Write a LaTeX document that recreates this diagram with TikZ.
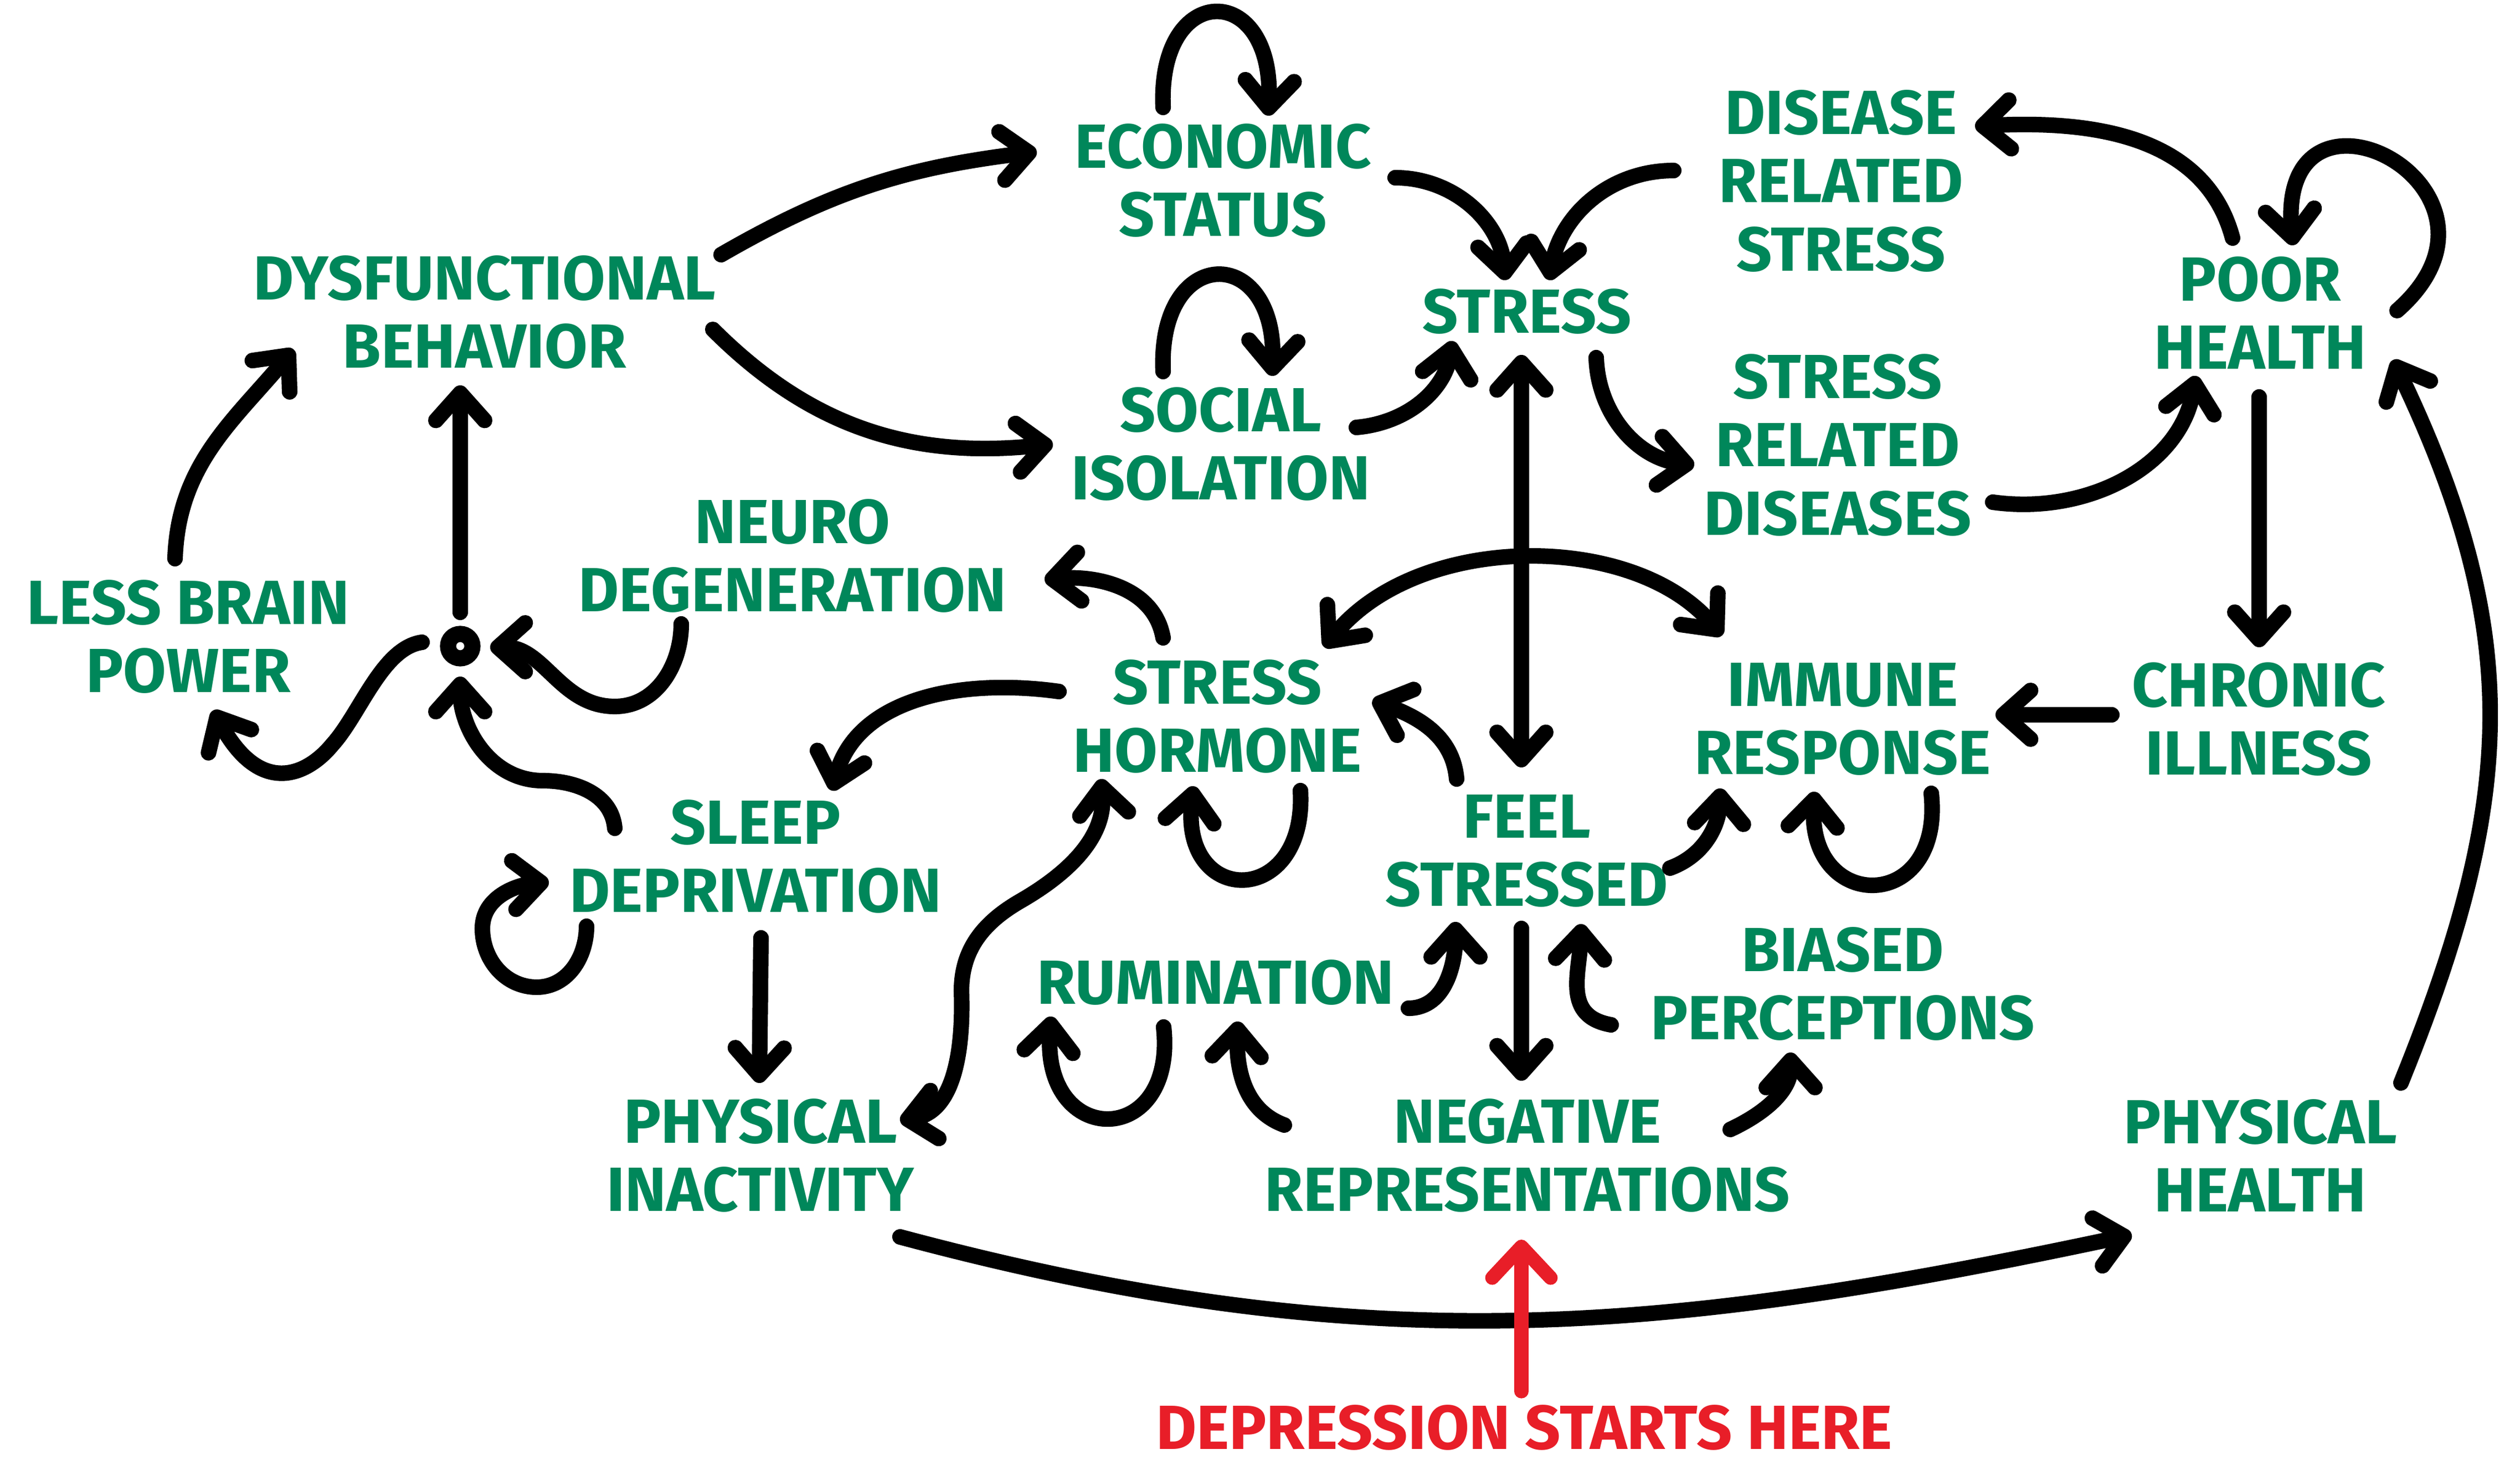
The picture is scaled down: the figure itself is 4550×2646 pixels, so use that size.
\documentclass[tikz,border=0pt]{standalone}
\usepackage{fontspec}
\newfontfamily\handfont{Fira Sans}
\usetikzlibrary{arrows.meta}
\definecolor{tgreen}{RGB}{0,135,90}
\definecolor{tred}{RGB}{232,30,40}
\begin{document}
\begin{tikzpicture}[x=0.01cm,y=-0.01cm,
  lbl/.style={text=tgreen, font=\handfont\bfseries\fontsize{32}{35}\selectfont, align=center, inner sep=0pt},
  conn/.style={line width=8pt, line cap=round, line join=round, draw=black},
  arr/.style={conn, -{Straight Barb[round,length=14pt,width=25pt]}},
  darr/.style={conn, {Straight Barb[round,length=14pt,width=25pt]}-{Straight Barb[round,length=14pt,width=25pt]}},
  redarr/.style={line width=7.2pt, draw=tred, line cap=round, -{Straight Barb[round,length=16pt,width=30pt]}},
  ring/.style={circle, draw=black, fill=white, line width=8.3pt, minimum size=0.44cm, inner sep=0pt}
]
\fill[white] (0,0) rectangle (4550,2646);
\useasboundingbox (0,0) rectangle (4550,2646);

% nodes
\node[lbl] (econ) at (2208,326) {ECONOMIC\\STATUS};
\node[lbl] (dysf) at (875,564) {DYSFUNCTIONAL\\BEHAVIOR};
\node[lbl] (social) at (2204,802) {SOCIAL\\ISOLATION};
\node[lbl] (stress) at (2757,563) {STRESS};
\node[lbl] (drs) at (3324,327) {DISEASE\\RELATED\\STRESS};
\node[lbl] (srd) at (3318,804) {STRESS\\RELATED\\DISEASES};
\node[lbl] (poor) at (4081,565) {POOR\\HEALTH};
\node[lbl] (neuro) at (1431,1004) {NEURO\\DEGENERATION};
\node[lbl] (lbp) at (340,1150) {LESS BRAIN\\POWER};
\node[lbl] (hormone) at (2198,1294) {STRESS\\HORMONE};
\node[lbl] (immune) at (3327,1299) {IMMUNE\\RESPONSE};
\node[lbl] (chronic) at (4078,1299) {CHRONIC\\ILLNESS};
\node[lbl] (sleep) at (1364,1547) {SLEEP\\DEPRIVATION};
\node[lbl] (feel) at (2757,1537) {FEEL\\STRESSED};
\node[lbl] (rumin) at (2195,1775) {RUMINATION};
\node[lbl] (biased) at (3327,1777) {BIASED\\PERCEPTIONS};
\node[lbl] (inact) at (1373,2087) {PHYSICAL\\INACTIVITY};
\node[lbl] (negrep) at (2758,2087) {NEGATIVE\\REPRESENTATIONS};
\node[lbl] (phealth) at (4081,2087) {PHYSICAL\\HEALTH};
\node[lbl, text=tred] (depr) at (2752,2578) {DEPRESSION STARTS HERE};
\node[ring] (dot) at (831,1167) {};

% upper part
\draw[arr] ([shift={(427,-104)}]dysf.center) to[out=30,in=187] ([shift={(-336,-52)}]econ.center);
\draw[arr] ([shift={(412,31)}]dysf.center) to[out=-45,in=186] ([shift={(-303,0)}]social.center);
\draw[arr] ([shift={(-108,-132)}]econ.center) .. controls +(-10,-229) and +(10,-244) .. ([shift={(82,-117)}]econ.center);
\draw[arr] ([shift={(-104,-131)}]social.center) .. controls +(-10,-231) and +(8,-239) .. ([shift={(93,-123)}]social.center);
\draw[arr] ([shift={(311,-5)}]econ.center) to[out=0,in=95] ([shift={(-39,-57)}]stress.center);
\draw[arr] ([shift={(-302,-19)}]drs.center) to[out=180,in=80] ([shift={(40,-57)}]stress.center);
\draw[arr] ([shift={(245,-30)}]social.center) to[out=5,in=-100] ([shift={(-134,53)}]stress.center);
\draw[darr] ([shift={(-10,78)}]stress.center) -- ([shift={(-10,-151)}]feel.center);
\draw[arr] ([shift={(125,83)}]stress.center) to[out=-88,in=173] ([shift={(-259,36)}]srd.center);
\draw[arr] ([shift={(280,103)}]srd.center) to[out=-8,in=-100] ([shift={(-116,114)}]poor.center);
\draw[arr] ([shift={(-50,-135)}]poor.center) to[out=105,in=3] ([shift={(242,-99)}]drs.center);
\draw[arr] ([shift={(247,-4)}]poor.center) .. controls +(252,-221) and +(-30,-343) .. ([shift={(59,-122)}]poor.center);
\draw[arr] ([shift={(-2,152)}]poor.center) -- ([shift={(1,-130)}]chronic.center);
\draw[arr] ([shift={(-265,-8)}]chronic.center) -- ([shift={(276,-8)}]immune.center);
\draw[arr] ([shift={(254,-131)}]phealth.center) .. controls +(205,-506) and +(239,500) .. ([shift={(240,85)}]poor.center);
\draw[arr] ([shift={(252,147)}]inact.center) to[out=-15,in=192] ([shift={(-232,143)}]phealth.center);

% left
\draw[arr] ([shift={(-24,-141)}]lbp.center) to[out=88,in=-130] ([shift={(-345,67)}]dysf.center);
\draw[arr] ([shift={(0,-61)}]dot.center) -- ([shift={(-44,132)}]dysf.center);
\draw[arr] ([shift={(-69,-7)}]dot.center) .. controls (690,1170) and (650,1290) .. (600,1345) .. controls (555,1400) and (470,1440) .. ([shift={(45,133)}]lbp.center);
\draw[arr] ([shift={(-201,123)}]neuro.center) to[out=-90,in=0] (1110,1276) to[out=180,in=0] ([shift={(54,2)}]dot.center);
\draw[arr] ([shift={(-98,-142)}]hormone.center) to[out=100,in=5] ([shift={(455,43)}]neuro.center);
\draw[arr] ([shift={(-286,-45)}]hormone.center) to[out=172,in=75] ([shift={(138,-119)}]sleep.center);
\draw[arr] ([shift={(-254,-51)}]sleep.center) to[out=95,in=0] (980,1410) to[out=180,in=-90] ([shift={(0,55)}]dot.center);
\draw[arr] ([shift={(-305,126)}]sleep.center) to[out=-90,in=0] (969,1783) to[out=180,in=-90] (871,1677) to[out=90,in=185] ([shift={(-373,46)}]sleep.center);
\draw[arr] ([shift={(10,147)}]sleep.center) -- ([shift={(-2,-131)}]inact.center);

% middle
\draw[arr] ([shift={(150,134)}]hormone.center) .. controls +(12,212) and +(-25,220) .. ([shift={(-43,126)}]hormone.center);
\draw[darr] ([shift={(-210,113)}]hormone.center) to[out=-85,in=30] (1843,1627) to[out=210,in=90] (1736,1790) to[out=-88,in=10] ([shift={(252,-63)}]inact.center);
\draw[arr] ([shift={(-127,-130)}]feel.center) to[out=95,in=-20] ([shift={(280,-29)}]hormone.center);
\draw[darr] ([shift={(193,-125)}]hormone.center) .. controls +(169,-209) and +(-159,-188) .. ([shift={(-218,-151)}]immune.center);
\draw[arr] ([shift={(160,134)}]immune.center) .. controls +(23,217) and +(-11,220) .. ([shift={(-51,131)}]immune.center);
\draw[arr] ([shift={(258,31)}]feel.center) to[out=20,in=-92] ([shift={(-221,125)}]immune.center);
\draw[arr] ([shift={(348,46)}]rumin.center) to[out=0,in=-90] ([shift={(-129,128)}]feel.center);
\draw[arr] ([shift={(-10,140)}]feel.center) -- ([shift={(-11,-135)}]negrep.center);
\draw[arr] ([shift={(-418,74)}]biased.center) to[out=170,in=-92,looseness=1.2] ([shift={(98,132)}]feel.center);
\draw[arr] ([shift={(366,-47)}]negrep.center) to[out=25,in=-90] ([shift={(-94,124)}]biased.center);
\draw[arr] ([shift={(-439,-55)}]negrep.center) to[out=160,in=-92] ([shift={(40,70)}]rumin.center);
\draw[arr] ([shift={(-94,80)}]rumin.center) .. controls +(24,220) and +(-18,239) .. ([shift={(-297,61)}]rumin.center);

% red
\draw[redarr] ([shift={(-5,-65)}]depr.center) -- ([shift={(-11,152)}]negrep.center);
\end{tikzpicture}
\end{document}
